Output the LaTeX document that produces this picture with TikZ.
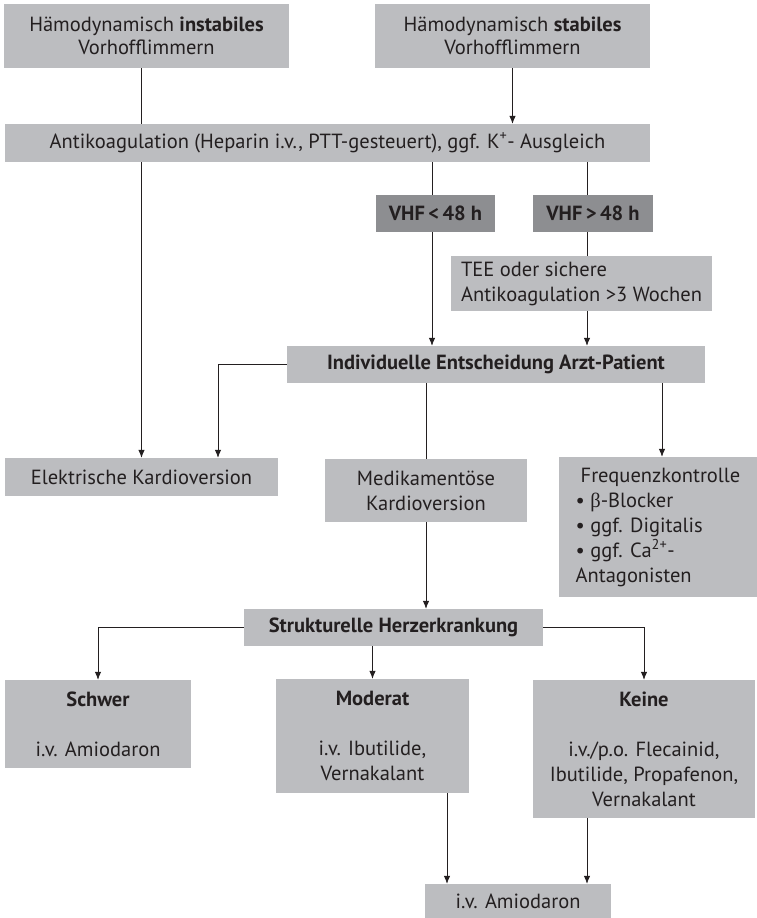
\documentclass[tikz,border=0pt]{standalone}
\usepackage{fontspec}
\setmainfont{PT Sans}
\newfontfamily\greekfont{Liberation Serif}
\usetikzlibrary{arrows.meta,backgrounds}
\definecolor{boxgray}{RGB}{188,189,192}
\definecolor{boxdark}{RGB}{141,142,145}
\definecolor{ink}{RGB}{35,31,32}

\begin{document}
\begin{tikzpicture}[x=1pt,y=-1pt,
  box/.style={fill=boxgray, inner sep=0pt, text=ink, align=center,
    font=\fontsize{20.5}{25}\selectfont},
  darkbox/.style={box, fill=boxdark, font=\bfseries\fontsize{20.5}{25}\selectfont},
  conn/.style={draw=ink, line width=0.8pt},
  arr/.style={conn, -{Latex[length=8pt,width=6.5pt]}}]

\useasboundingbox (0,0) rectangle (757,918);

% boxes
\node[box, minimum width=285pt, minimum height=64pt, font=\fontsize{20.5}{23}\selectfont]
  (ti) at (146.5,36) {Hämodynamisch \textbf{instabiles}\\Vorhofflimmern};
\node[box, minimum width=275pt, minimum height=64pt, font=\fontsize{20.5}{23}\selectfont]
  (ts) at (512.5,36) {Hämodynamisch \textbf{stabiles}\\Vorhofflimmern};
\node[box, minimum width=645pt, minimum height=38pt]
  (ak) at (327.5,143) {Antikoagulation (Heparin i.v., PTT-gesteuert), ggf. K\textsuperscript{+}- Ausgleich};
\node[darkbox, minimum width=119pt, minimum height=37pt]
  (v1) at (435.5,213.5) {VHF\,<\,48 h};
\node[darkbox, minimum width=120pt, minimum height=37pt]
  (v2) at (593,213.5) {VHF\,>\,48 h};
\node[box, minimum width=261pt, minimum height=55pt, align=left]
  (tee) at (581.5,283.5) {TEE oder sichere\\Antikoagulation >3 Wochen};
\node[box, minimum width=418pt, minimum height=37pt, font=\bfseries\fontsize{20.5}{25}\selectfont]
  (ind) at (496,364.5) {Individuelle Entscheidung Arzt-Patient};
\node[box, minimum width=273pt, minimum height=38pt]
  (ek) at (141.5,477) {Elektrische Kardioversion};
\node[box, minimum width=202pt, minimum height=63pt]
  (mk) at (426,490.5) {Medikamentöse\\Kardioversion};
\node[box, minimum width=198pt, minimum height=140pt, align=left]
  (fk) at (658,527) {\hspace*{5pt}Frequenzkontrolle\\
    \textbullet\ {\greekfont β}-Blocker\\
    \textbullet\ ggf. Digitalis\\
    \textbullet\ ggf. Ca\textsuperscript{2+}-\\
    Antagonisten};
\node[box, minimum width=299pt, minimum height=37pt, font=\bfseries\fontsize{20.5}{25}\selectfont]
  (sh) at (393.5,627.5) {Strukturelle Herzerkrankung};
\node[box, minimum width=186pt, minimum height=88pt]
  (sw) at (98,724) {\textbf{Schwer}\\[25pt]i.v. Amiodaron};
\node[box, minimum width=193pt, minimum height=114pt]
  (md) at (372.5,736) {\textbf{Moderat}\\[25pt]i.v. Ibutilide,\\Vernakalant};
\node[box, minimum width=222pt, minimum height=138pt]
  (kn) at (644,749) {\textbf{Keine}\\[25pt]i.v./p.o. Flecainid,\\Ibutilide, Propafenon,\\Vernakalant};
\node[box, minimum width=186pt, minimum height=34pt]
  (am) at (518,901) {i.v. Amiodaron};

% vertical guide positions for connectors
\coordinate (xa) at (587,0);
\coordinate (xb) at (662,0);
\coordinate (xc) at (218,0);
\coordinate (xd) at (432,0);
\coordinate (xe) at (447,0);

% connectors
\begin{scope}[on background layer]
  \draw[arr] (ti.south -| ek.north) -- (ek.north);
  \draw[arr] (ts.south) -- (ak.north -| ts.south);
  \draw[conn] (ak.south -| xd) -- (v1.north -| xd);
  \draw[arr] (v1.south -| xd) -- (ind.north -| xd);
  \draw[conn] (ak.south -| xa) -- (v2.north -| xa);
  \draw[conn] (v2.south -| xa) -- (tee.north -| xa);
  \draw[arr] (tee.south -| xa) -- (ind.north -| xa);
  \draw[arr] (ind.west) -| (ek.north -| xc);
  \draw[conn] (ind.south -| mk.north) -- (mk.north);
  \draw[arr] (ind.south -| xb) -- (fk.north -| xb);
  \draw[arr] (mk.south) -- (sh.north -| mk.south);
  \draw[arr] (sh.west) -| (sw.north);
  \draw[arr] (sh.south -| md.north) -- (md.north);
  \draw[arr] (sh.east) -| (kn.north);
  \draw[arr] (md.south -| xe) -- (am.north -| xe);
  \draw[arr] (kn.south -| xa) -- (am.north -| xa);
\end{scope}
\end{tikzpicture}
\end{document}
